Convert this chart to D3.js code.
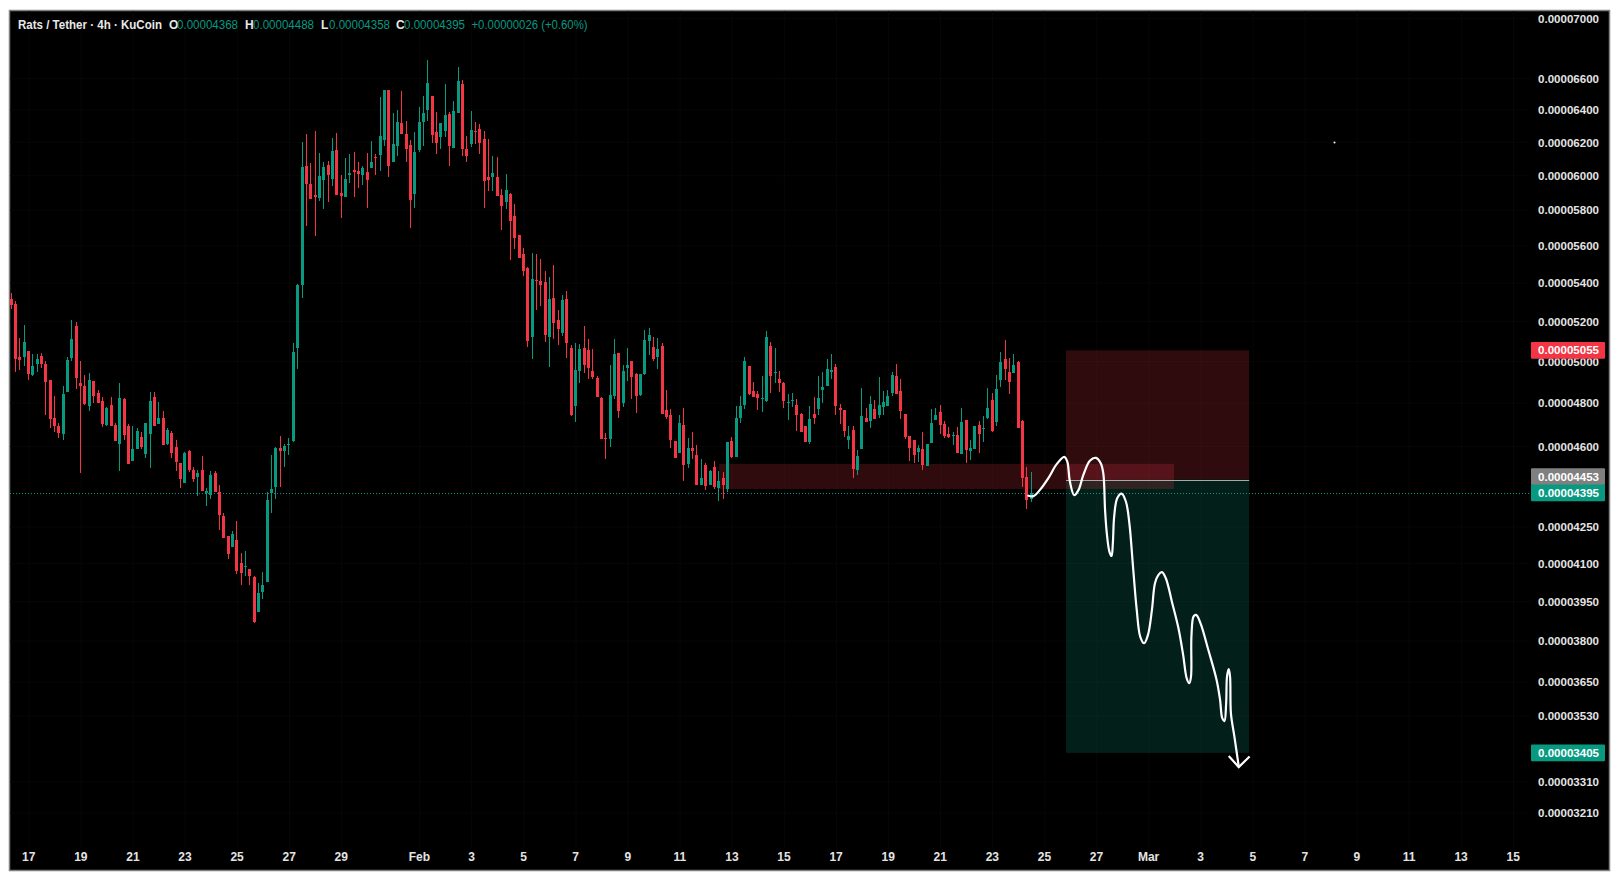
<!DOCTYPE html>
<html>
<head>
<meta charset="utf-8">
<script src="https://d3js.org/d3.v7.min.js"></script>
<style>
  html, body { margin: 0; padding: 0; background: #fff; }
  text { font-family: "Liberation Sans", Arial, sans-serif; }
</style>
</head>
<body>
<div id="chart"></div>
<script>
// prices are in units of 0.00000001 USDT, one entry per 4h bar
const opens = [5316,5291,5023,5023,5052,4936,4988,5028,4988,4910,
  4730,4694,4657,4853,5018,5178,4896,4881,4787,4905,
  4848,4810,4698,4791,4698,4612,4820,4694,4535,4590,
  4643,4568,4657,4829,4703,4730,4612,4662,4599,4526,
  4438,4581,4495,4465,4495,4394,4387,4482,4400,4296,
  4214,4168,4197,4103,4087,4079,4047,3911,3988,4027,
  4395,4421,4595,4581,4608,4626,5068,5390,6058,5952,
  5888,5871,5975,6064,5981,6155,5900,5876,6005,6035,
  6029,6005,6023,6046,6112,6124,6215,6527,6082,6179,
  6320,6252,6185,5894,6155,6326,6401,6489,6264,6233,
  6270,6376,6167,6382,6565,6161,6191,6270,6283,6221,
  5993,5993,5993,5888,5848,5894,5767,5661,5557,5481,
  5122,5417,5412,5406,5122,5321,5208,5142,5316,5067,
  4787,4954,5067,5057,4954,4920,4825,4639,4635,4834,
  5043,4801,4969,5003,4939,4839,4939,5102,5072,5023,
  5077,4768,4745,4625,4571,4698,4521,4594,4562,4430,
  4517,4430,4508,4417,4460,4412,4625,4553,4730,4791,
  4979,4857,4843,4820,4810,5078,4944,4915,4896,4801,
  4810,4791,4749,4693,4621,4749,4773,4862,4882,4949,
  4973,4777,4768,4630,4675,4495,4589,4730,4716,4773,
  4744,4782,4787,4847,4930,4858,4749,4648,4630,4576,
  4589,4512,4616,4721,4759,4702,4657,4648,4653,4566,
  4721,4580,4589,4698,4679,4730,4815,4712,4910,5013,
  4949,4944,4998,4716,4464,4368];
const highs = [5346,5306,5117,5183,5052,5038,5038,5042,5003,4910,
  4834,4706,4881,5023,5208,5198,5003,4936,4945,4905,
  4862,4829,4782,4829,4706,4896,4825,4703,4694,4685,
  4666,4708,4853,4853,4806,4763,4685,4671,4630,4526,
  4577,4586,4508,4495,4559,4417,4491,4491,4430,4309,
  4214,4235,4276,4144,4152,4079,4051,4023,4067,4400,
  4563,4599,4648,4612,4639,5092,5396,6203,6252,6076,
  6270,6136,6082,6088,6227,6258,6005,6106,6130,6142,
  6082,6058,6136,6209,6130,6482,6527,6527,6382,6401,
  6521,6332,6215,6264,6419,6489,6722,6489,6388,6320,
  6565,6388,6457,6676,6591,6240,6395,6326,6314,6270,
  6221,6118,6112,5923,6011,5900,5836,5661,5589,5486,
  5562,5557,5529,5465,5433,5497,5260,5338,5359,5082,
  5092,5087,5178,5112,5062,4930,4829,4662,4984,5112,
  5043,4984,5067,5003,4944,4939,5158,5168,5122,5117,
  5092,4862,4772,4625,4745,4777,4639,4667,4607,4544,
  4526,4495,4535,4490,4486,4621,4644,4787,4834,5023,
  4979,4901,4857,4930,5153,5097,5068,4954,4901,4843,
  4847,4820,4754,4693,4787,4829,4930,4949,5013,5038,
  4988,4796,4768,4693,4693,4585,4872,4777,4834,4815,
  4925,4858,4862,4949,4988,4915,4749,4648,4630,4607,
  4666,4612,4773,4777,4791,4716,4689,4666,4689,4777,
  4721,4630,4693,4716,4740,4872,4847,4935,5048,5107,
  5018,5038,5003,4721,4508,4488];
const lows = [5265,4949,4959,4979,4910,4931,4949,4969,4744,4685,
  4666,4639,4630,4853,5003,4867,4482,4791,4763,4801,
  4801,4689,4694,4694,4624,4491,4630,4521,4535,4590,
  4590,4550,4504,4694,4703,4608,4608,4546,4491,4417,
  4438,4486,4442,4383,4404,4339,4370,4400,4239,4205,
  4119,4168,4059,4015,4051,4015,3868,3911,3961,4027,
  4309,4370,4421,4508,4563,4621,4964,5322,5711,5865,
  5655,5853,5808,5848,5940,5888,5756,5876,5958,5876,
  5928,5946,5813,6046,6005,6029,6179,5993,6082,6118,
  6252,6082,5700,5813,6142,6179,6332,6197,6130,6161,
  6233,6058,6167,6382,6118,6082,6173,6191,6130,5813,
  5911,5911,5882,5689,5808,5524,5584,5535,5438,5072,
  5013,5260,5280,5097,4974,5112,5082,5127,5018,4740,
  4712,4896,4944,4915,4915,4829,4635,4544,4598,4820,
  4730,4782,4905,4820,4754,4834,4935,5033,5003,4964,
  4750,4726,4594,4548,4571,4447,4504,4544,4430,4430,
  4408,4430,4412,4360,4369,4400,4548,4553,4707,4772,
  4839,4829,4768,4759,4806,4847,4896,4853,4777,4721,
  4782,4671,4666,4621,4612,4702,4744,4801,4882,4915,
  4744,4702,4644,4589,4460,4473,4589,4712,4684,4726,
  4730,4744,4787,4834,4843,4726,4635,4535,4526,4530,
  4495,4512,4616,4721,4657,4639,4639,4607,4571,4566,
  4526,4539,4589,4571,4621,4726,4666,4693,4877,4910,
  4843,4944,4684,4421,4327,4358];
const closes = [5285,5013,5008,5097,4940,4979,5013,4988,4901,4726,
  4694,4662,4843,5008,5112,4920,4881,4796,4910,4834,
  4801,4703,4777,4694,4626,4825,4653,4521,4590,4671,
  4599,4708,4810,4694,4730,4608,4676,4572,4530,4456,
  4572,4495,4456,4482,4404,4404,4473,4400,4300,4205,
  4140,4222,4071,4063,4091,4051,3872,3984,4015,4365,
  4412,4595,4581,4603,4612,5047,5390,6052,5952,5865,
  5876,5999,6052,6005,6149,5888,5882,5981,6017,6023,
  6011,6046,5975,6082,6106,6240,6527,6058,6191,6326,
  6252,6161,5859,6142,6326,6382,6572,6246,6197,6320,
  6369,6179,6395,6585,6161,6118,6276,6264,6197,5969,
  5975,6017,5882,5825,5917,5739,5644,5535,5465,5102,
  5422,5412,5390,5132,5316,5193,5163,5311,5092,4745,
  4959,5062,4984,4969,4925,4829,4635,4635,4839,5038,
  4763,4954,4984,4925,4834,4939,5107,5132,5013,5062,
  4750,4735,4630,4548,4707,4517,4594,4580,4430,4460,
  4425,4490,4421,4447,4430,4621,4553,4730,4787,5003,
  4843,4829,4825,4825,5122,4930,4949,4896,4810,4806,
  4815,4744,4666,4621,4726,4730,4825,4877,4963,4959,
  4787,4768,4671,4648,4500,4557,4740,4712,4796,4726,
  4791,4806,4834,4935,4843,4763,4644,4594,4562,4594,
  4517,4612,4707,4744,4698,4648,4644,4653,4571,4712,
  4585,4594,4693,4657,4684,4777,4671,4867,4998,4963,
  4901,4983,4684,4460,4365,4395];

const priceTicks = [7000,6600,6400,6200,6000,5800,5600,5400,5200,5000,4800,4600,4250,4100,3950,3800,3650,3530,3310,3210];
const timeBars = [4,16,28,40,52,64,76,94,106,118,130,142,154,166,178,190,202,214,226,238,250,262,274,286,298,310,322,334,346];
const timeLabels = ["17","19","21","23","25","27","29","Feb","3","5","7","9","11","13","15","17","19","21","23","25","27","Mar","3","5","7","9","11","13","15"];

const lastPrice = 4395;
const stopPrice = 5055;
const entryPrice = 4453;
const targetPrice = 3405;
const positionBars = [242.9, 285.1];
const zoneBars = [163, 267.8];
const zonePrices = [4522, 4412];

// the hand drawn forecast line
const drawnBars = [234.2,235.4,236.9,238.8,240.8,242.5,243.2,243.8,244.8,245.8,246.9,248.4,249.8,250.9,251.5,251.9,252.3,252.9,253.4,253.7,254,254.7,255.7,256.7,257.5,258.4,259.2,260,260.9,261.8,262.7,263.4,264.2,265,265.9,267.3,268.8,269.9,270.7,271.3,271.7,271.8,272.3,272.9,273.9,275.7,277.6,278.4,278.9,279.4,279.8,280,280.4,280.7,280.9,281.7,282.7];
const drawnPrices = [4383,4381,4408,4458,4522,4553,4532,4444,4385,4408,4473,4536,4549,4525,4480,4322,4225,4149,4131,4184,4294,4372,4392,4358,4266,4075,3918,3817,3792,3824,3918,4022,4055,4066,4042,3950,3849,3748,3664,3646,3670,3817,3893,3899,3867,3767,3658,3587,3523,3513,3575,3670,3697,3670,3540,3460,3360];
const arrowBars = [280.4,282.7,285.2];
const arrowPrices = [3395,3358,3393];

const legendTitle = "Rats / Tether · 4h · KuCoin";
const legendKeys = ["O","H","L","C"];
const legendValues = ["0.00004368","0.00004488","0.00004358","0.00004395"];
const legendChange = "+0.00000026 (+0.60%)";

const up = "#089981";
const down = "#f23645";
const fmt = (p) => `0.0000${p}`;

const svg = d3.select("#chart").append("svg")
  .attr("width", 1620).attr("height", 881)
  .style("display", "block");

svg.append("rect")
  .attr("x", 9.5).attr("y", 10.5)
  .attr("width", 1600).attr("height", 860)
  .attr("fill", "#000").attr("stroke", "#808080").attr("stroke-width", 1.5);

const x = d3.scaleLinear().domain([0, 235]).range([11.7, 1031.7]);
const y = d3.scaleLog().domain([7000, 3210]).range([18.7, 813]);

// faint grid
svg.append("g").selectAll("line").data(timeBars).enter().append("line")
  .attr("x1", (d) => x(d)).attr("x2", (d) => x(d))
  .attr("y1", 11).attr("y2", 848)
  .attr("stroke", "#070707");
svg.append("g").selectAll("line").data(priceTicks).enter().append("line")
  .attr("x1", 10).attr("x2", 1530)
  .attr("y1", (d) => y(d)).attr("y2", (d) => y(d))
  .attr("stroke", "#070707");

// position boxes
svg.append("rect")
  .attr("x", x(positionBars[0])).attr("width", x(positionBars[1]) - x(positionBars[0]))
  .attr("y", y(stopPrice)).attr("height", y(entryPrice) - y(stopPrice))
  .attr("fill", down).attr("fill-opacity", 0.2);
svg.append("rect")
  .attr("x", x(positionBars[0])).attr("width", x(positionBars[1]) - x(positionBars[0]))
  .attr("y", y(entryPrice)).attr("height", y(targetPrice) - y(entryPrice))
  .attr("fill", up).attr("fill-opacity", 0.2);
// supply zone
svg.append("rect")
  .attr("x", x(zoneBars[0])).attr("width", x(zoneBars[1]) - x(zoneBars[0]))
  .attr("y", y(zonePrices[0])).attr("height", y(zonePrices[1]) - y(zonePrices[0]))
  .attr("fill", down).attr("fill-opacity", 0.2);
svg.append("line")
  .attr("x1", x(positionBars[0])).attr("x2", x(positionBars[1]))
  .attr("y1", Math.round(y(entryPrice)) + 0.5).attr("y2", Math.round(y(entryPrice)) + 0.5)
  .attr("stroke", "#a8a8a8");

// last price line
svg.append("line")
  .attr("x1", 10).attr("x2", 1531)
  .attr("y1", Math.round(y(lastPrice)) + 0.5).attr("y2", Math.round(y(lastPrice)) + 0.5)
  .attr("stroke", up).attr("stroke-dasharray", "1,2");

// candles
const candles = opens.map((o, i) => ({ i, o, h: highs[i], l: lows[i], c: closes[i] }));
const colorOf = (d) => (d.c >= d.o ? up : down);
const bars = svg.append("g").selectAll("g").data(candles).enter().append("g");
bars.append("rect")
  .attr("x", (d) => Math.round(x(d.i) - 1))
  .attr("width", 1)
  .attr("y", (d) => Math.round(y(d.h)))
  .attr("height", (d) => Math.round(y(d.l)) - Math.round(y(d.h)))
  .attr("fill", colorOf);
bars.append("rect")
  .attr("x", (d) => Math.round(x(d.i) - 1) - 1)
  .attr("width", 3)
  .attr("y", (d) => Math.round(y(Math.max(d.o, d.c))))
  .attr("height", (d) => Math.max(1, Math.round(y(Math.min(d.o, d.c))) - Math.round(y(Math.max(d.o, d.c)))))
  .attr("fill", colorOf);

// forecast line and arrow head
const drawn = d3.line().x((d) => x(d[0])).y((d) => y(d[1])).curve(d3.curveCatmullRom.alpha(0.5));
svg.append("path")
  .attr("d", drawn(drawnBars.map((b, i) => [b, drawnPrices[i]])))
  .attr("fill", "none").attr("stroke", "#fff").attr("stroke-width", 2.2).attr("stroke-linecap", "round");
const arrow = d3.line().x((d) => x(d[0])).y((d) => y(d[1]));
svg.append("path")
  .attr("d", arrow(arrowBars.map((b, i) => [b, arrowPrices[i]])))
  .attr("fill", "none").attr("stroke", "#fff").attr("stroke-width", 2.2);

// small stray dot
svg.append("circle").attr("cx", 1334.5).attr("cy", 142.5).attr("r", 1).attr("fill", "#fff");

// axes
const xAxis = d3.axisBottom(x).tickValues(timeBars).tickSize(0).tickPadding(0)
  .tickFormat((d, i) => timeLabels[i]);
const xg = svg.append("g").attr("transform", "translate(-0.8,852)").call(xAxis);
xg.select(".domain").remove();
xg.selectAll("text").attr("fill", "#e4e4e4").style("font-size", "12px").style("font-weight", "bold")
  .style("font-family", '"Liberation Sans", Arial, sans-serif');

const yAxis = d3.axisRight(y).tickValues(priceTicks).tickSize(0).tickPadding(0).tickFormat(fmt);
const yg = svg.append("g").attr("transform", "translate(1538,0)").call(yAxis);
yg.select(".domain").remove();
yg.selectAll("text").attr("fill", "#e4e4e4").style("font-size", "11.5px").style("font-weight", "bold")
  .style("font-family", '"Liberation Sans", Arial, sans-serif').attr("textLength", 61).attr("lengthAdjust", "spacingAndGlyphs");

// price tags on the right
const tags = [
  { p: stopPrice, fill: down, shift: 0 },
  { p: entryPrice, fill: "#808080", shift: -3 },
  { p: lastPrice, fill: up, shift: 0 },
  { p: targetPrice, fill: up, shift: 0 },
];
const tag = svg.append("g").selectAll("g").data(tags).enter().append("g")
  .attr("transform", (d) => `translate(1531,${y(d.p) + d.shift})`);
tag.append("rect")
  .attr("y", -8.4).attr("width", 74).attr("height", 16.8).attr("rx", 1).attr("fill", (d) => d.fill);
tag.append("text")
  .attr("x", 7).attr("dy", "0.35em").attr("fill", "#fff")
  .attr("textLength", 61).attr("lengthAdjust", "spacingAndGlyphs")
  .style("font-size", "11.5px").style("font-weight", "bold")
  .text((d) => fmt(d.p));

// legend line
const legend = svg.append("g").attr("transform", "translate(0,29)").style("font-size", "12px");
legend.append("text").attr("x", 18).attr("textLength", 144).attr("lengthAdjust", "spacingAndGlyphs")
  .attr("fill", "#e8e8e8").style("font-weight", "bold").text(legendTitle);
const keyX = d3.scaleOrdinal().domain(legendKeys).range([169, 245, 321, 396]);
legendKeys.forEach((k, i) => {
  legend.append("text").attr("x", keyX(k)).attr("fill", "#e8e8e8").style("font-weight", "bold").text(k);
  legend.append("text").attr("x", keyX(k) + 8).attr("textLength", 61).attr("lengthAdjust", "spacingAndGlyphs")
    .attr("fill", up).text(legendValues[i]);
});
legend.append("text").attr("x", 471.5).attr("textLength", 116).attr("lengthAdjust", "spacingAndGlyphs")
  .attr("fill", up).text(legendChange);
</script>
</body>
</html>
